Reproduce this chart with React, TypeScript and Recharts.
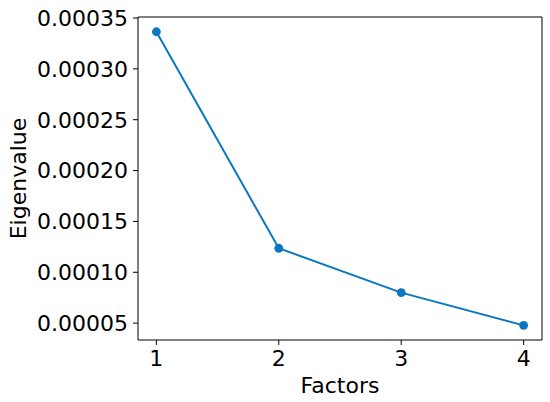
import React from 'react';
import { LineChart, Line, XAxis, YAxis } from 'recharts';

const factors: number[] = [1, 2, 3, 4];
const eigenvalues: number[] = [0.0003365, 0.0001236, 0.0000800, 0.0000478];
const xTicks: number[] = [1, 2, 3, 4];
const yTicks: number[] = [0.00005, 0.0001, 0.00015, 0.0002, 0.00025, 0.0003, 0.00035];

const blue = '#0a77c0';
const font = 'DejaVu Sans, sans-serif';

const data = factors.map((f, i) => ({ factor: f, value: eigenvalues[i] }));

const tickStyle = { fontSize: 22, fill: '#000', fontFamily: font };

const App = () => {
  return (
    <div style={{ position: 'absolute', left: 0, top: 0, background: '#fff' }}>
      <LineChart width={550} height={402} data={data} margin={{ top: 16, right: 7, left: 0, bottom: 0 }}>
        <XAxis
          dataKey="factor"
          type="number"
          domain={[0.85, 4.15]}
          ticks={xTicks}
          allowDataOverflow
          height={62}
          tickSize={5}
          tickMargin={5}
          stroke="#000"
          tick={tickStyle}
          label={{ value: 'Factors', position: 'insideBottom', offset: 9, fontSize: 22, fill: '#000', fontFamily: font }}
        />
        <XAxis xAxisId="top" orientation="top" dataKey="factor" type="number" domain={[0.85, 4.15]} allowDataOverflow height={1} ticks={xTicks} tick={false} tickLine={false} stroke="#000" />
        <YAxis
          type="number"
          domain={[0.0000334, 0.000351]}
          ticks={yTicks}
          allowDataOverflow
          width={138}
          tickSize={5}
          tickMargin={5}
          stroke="#000"
          tick={tickStyle}
          tickFormatter={(v: number) => v.toFixed(5)}
          label={{
            content: () => (
              <text x={26} y={178.5} transform="rotate(-90 26 178.5)" textAnchor="middle" fontSize={22} fill="#000" fontFamily={font}>
                Eigenvalue
              </text>
            ),
          }}
        />
        <YAxis yAxisId="right" orientation="right" width={1} ticks={yTicks} tick={false} tickLine={false} stroke="#000" domain={[0.0000334, 0.000351]} allowDataOverflow />
        <Line
          type="linear"
          dataKey="value"
          stroke={blue}
          strokeWidth={2}
          dot={{ r: 4.4, fill: blue, stroke: blue, strokeWidth: 0 }}
          isAnimationActive={false}
        />
      </LineChart>
    </div>
  );
};

export default App;
